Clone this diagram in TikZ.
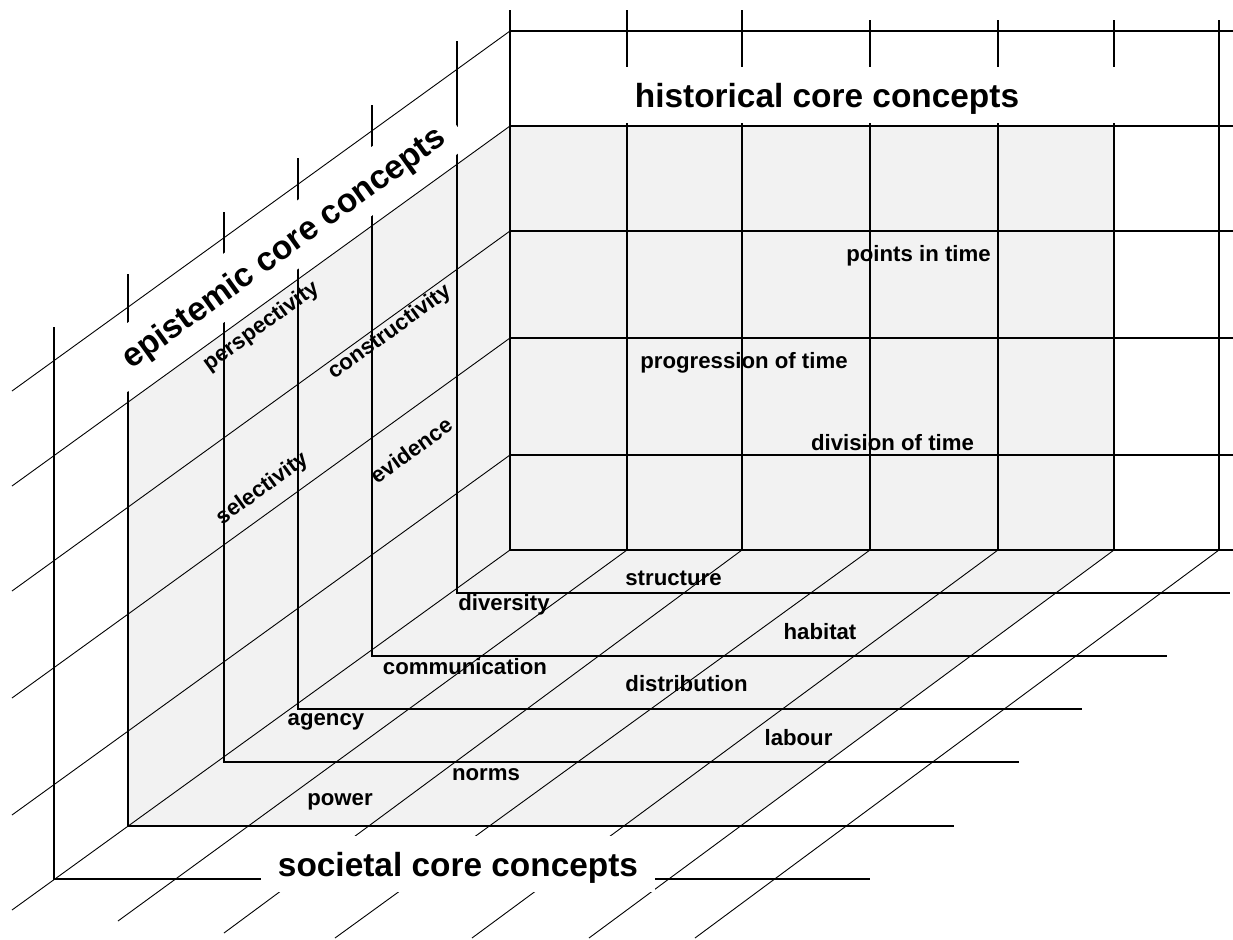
\documentclass[tikz,border=0pt]{standalone}
\usepackage{fontspec}
\setmainfont{Liberation Sans}
\usepackage{tikz}
\definecolor{wallgray}{HTML}{F2F2F2}

\begin{document}
\begin{tikzpicture}[x=0.5pt, y=-0.5pt,
                    wall/.style={line width=0.85pt},
                    ray/.style={line width=0.45pt},
                    facefill/.style={fill=wallgray},
                    title/.style={fill=white, inner xsep=8.25pt, inner ysep=0pt, minimum height=28pt,
                                  text height=15.9pt, text depth=3.3pt,
                                  font=\fontsize{16.7}{20}\selectfont\bfseries},
                    lbl/.style={inner sep=0pt, font=\fontsize{11.1}{13}\selectfont\bfseries}]
                  \useasboundingbox (0,0) rectangle (1233,939);
                  \coordinate (T) at (510,126);
                  \coordinate (C) at (510,550);
                  \coordinate (R) at (1114,550);
                  \coordinate (F) at (128,826);
                  % shaded faces
                  \fill[facefill] (T) rectangle (R);
                  \fill[facefill] (T) -- (C) -- (F) -- (128,402) -- cycle;
                  \fill[facefill] (C) -- (R) -- (740,826) -- (F) -- cycle;
                  % back wall
                  \draw[wall] (510,31)--(1233,31);
                  \draw[wall] (510,126)--(1233,126);
                  \draw[wall] (510,231)--(1233,231);
                  \draw[wall] (510,338)--(1233,338);
                  \draw[wall] (510,455)--(1233,455);
                  \draw[wall] (C)--(1233,550);
                  \draw[wall] (510,10)--(C);
                  \draw[wall] (627,10)--(627,550);
                  \draw[wall] (742,10)--(742,550);
                  \draw[wall] (870,20)--(870,550);
                  \draw[wall] (998,20)--(998,550);
                  \draw[wall] (1114,20)--(R);
                  \draw[wall] (1219,20)--(1219,550);
                  % left wall and floor frames
                  \draw[wall] (457,41)--(457,593)--(1230,593);
                  \draw[wall] (372,105)--(372,656)--(1167,656);
                  \draw[wall] (298,158)--(298,709)--(1082,709);
                  \draw[wall] (224,212)--(224,762)--(1019,762);
                  \draw[wall] (128,274)--(F)--(954,826);
                  \draw[wall] (54,327)--(54,879)--(870,879);
                  % left wall diagonals
                  \draw[ray] (510,31)--(12,391);
                  \draw[ray] (T)--(12,486);
                  \draw[ray] (510,231)--(12,591);
                  \draw[ray] (510,338)--(12,698);
                  \draw[ray] (510,455)--(12,815);
                  \draw[ray] (C)--(12,910);
                  % floor diagonals
                  \draw[ray] (627,550)--(118,921);
                  \draw[ray] (742,550)--(224,933);
                  \draw[ray] (870,550)--(335,938);
                  \draw[ray] (998,550)--(472,938);
                  \draw[ray] (R)--(589,938);
                  \draw[ray] (1219,550)--(695,938);
                  % titles
                  \node[title, minimum width=300pt] (hist) at (827,95) {historical core concepts};
                  \node[title, rotate=35.8] (epist) at (282.5,245.6) {epistemic core concepts};
                  \node[title] (soc) at (458,864) {societal core concepts};
                  % epistemic labels
                  \node[lbl, rotate=35.8] (persp) at (262,326.5) {perspectivity};
                  \node[lbl, rotate=35.8] (constr) at (390,332.5) {constructivity};
                  \node[lbl, rotate=35.8] (select) at (263,489) {selectivity};
                  \node[lbl, rotate=35.8] (evid) at (411.5,450) {evidence};
                  % historical labels
                  \node[lbl] (points) at (918.5,256) {points in time};
                  \node[lbl] (progr) at (744,363) {progression of time};
                  \node[lbl] (divis) at (892.5,443) {division of time};
                  % societal labels
                  \node[lbl] (struct) at (673.5,578) {structure};
                  \node[lbl] (divers) at (504,605) {diversity};
                  \node[lbl] (habit) at (820,632) {habitat};
                  \node[lbl] (commun) at (465,667) {communication};
                  \node[lbl] (distr) at (686.5,684) {distribution};
                  \node[lbl] (agency) at (326,722) {agency};
                  \node[lbl] (labour) at (798.5,738) {labour};
                  \node[lbl] (norms) at (486,775) {norms};
                  \node[lbl] (power) at (340,802) {power};
               \end{tikzpicture}
\end{document}
